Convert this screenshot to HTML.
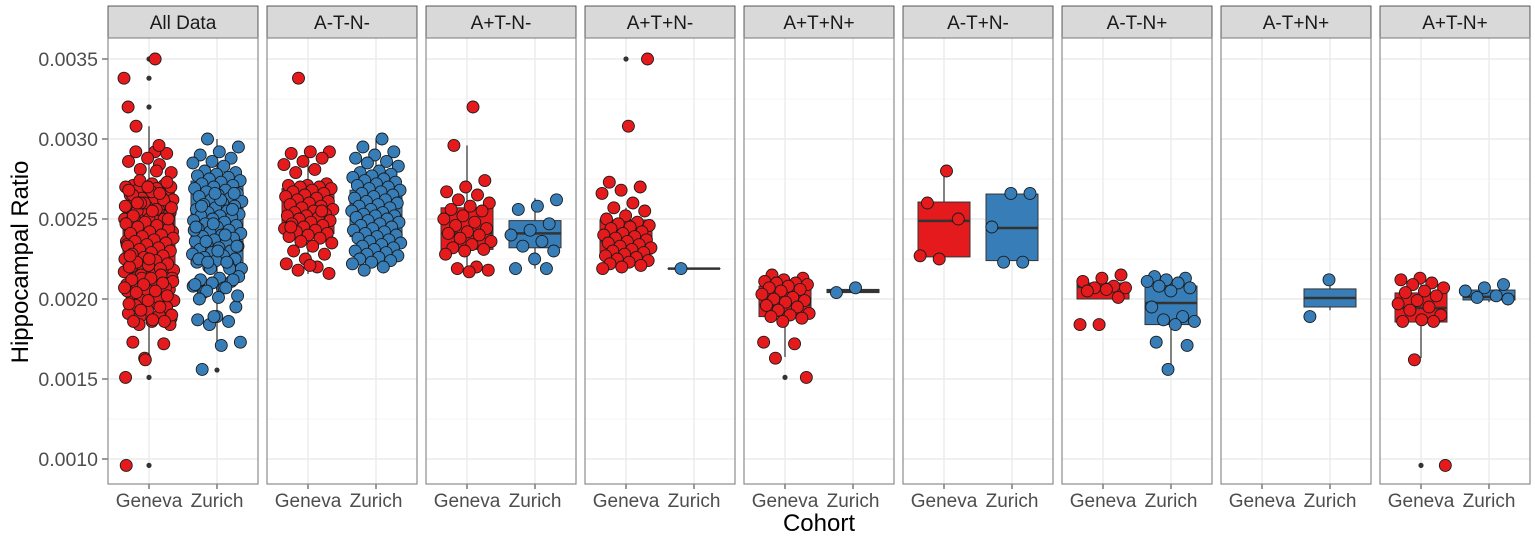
<!DOCTYPE html>
<html><head><meta charset="utf-8"><style>
html,body{margin:0;padding:0;background:#fff;}
svg{display:block;font-family:"Liberation Sans",sans-serif;}
</style></head><body>
<svg id="chart" width="1535" height="542" viewBox="0 0 1535 542"></svg>
<script>
const panels = ["All Data","A-T-N-","A+T-N-","A+T+N-","A+T+N+","A-T+N-","A-T-N+","A-T+N+","A+T-N+"];
const cohorts = ["Geneva","Zurich"];
const yTicks = [1.0,1.5,2.0,2.5,3.0,3.5];
const yTickLabels = ["0.0010","0.0015","0.0020","0.0025","0.0030","0.0035"];
// values x 1e-3 (hippocampal ratio * 1000)
const genevaPts = [
 null,
 [3.38,2.92,2.92,2.91,2.88,2.86,2.84,2.81,2.79,2.72,2.71,2.71,2.70,2.70,2.69,2.68,2.67,2.66,2.65,2.64,2.63,2.62,2.61,2.60,2.59,2.58,2.57,2.56,2.55,2.54,2.53,2.52,2.52,2.51,2.50,2.49,2.48,2.47,2.46,2.45,2.44,2.43,2.42,2.41,2.40,2.39,2.38,2.36,2.35,2.33,2.30,2.28,2.25,2.22,2.20,2.18,2.16,2.21,2.45,2.55],
 [3.20,2.96,2.74,2.70,2.67,2.65,2.62,2.60,2.58,2.56,2.55,2.52,2.50,2.48,2.46,2.44,2.42,2.41,2.40,2.38,2.36,2.34,2.32,2.31,2.30,2.28,2.20,2.19,2.18,2.17],
 [3.50,3.08,2.73,2.70,2.68,2.66,2.60,2.57,2.55,2.52,2.50,2.48,2.47,2.46,2.45,2.44,2.42,2.41,2.40,2.39,2.38,2.37,2.36,2.35,2.34,2.33,2.32,2.31,2.30,2.29,2.28,2.27,2.26,2.25,2.24,2.23,2.22,2.21,2.20,2.19],
 [2.15,2.13,2.12,2.11,2.10,2.10,2.09,2.08,2.07,2.06,2.05,2.03,2.01,2.00,1.99,1.98,1.96,1.95,1.93,1.91,1.90,1.89,1.88,1.86,1.73,1.72,1.63,1.51],
 [2.80,2.60,2.50,2.25,2.27],
 [2.15,2.13,2.11,2.08,2.07,2.07,2.06,2.05,2.01,1.84,1.84],
 [],
 [2.13,2.12,2.10,2.09,2.07,2.05,2.04,2.02,1.99,1.97,1.95,1.93,1.90,1.87,1.86,1.86,1.62,0.96]
];
const zurichPts = [
 null,
 [3.00,2.95,2.92,2.90,2.88,2.86,2.85,2.83,2.80,2.79,2.78,2.77,2.76,2.75,2.74,2.73,2.72,2.71,2.70,2.69,2.68,2.67,2.66,2.65,2.64,2.63,2.62,2.61,2.60,2.59,2.58,2.57,2.56,2.55,2.54,2.53,2.52,2.52,2.51,2.50,2.49,2.48,2.47,2.46,2.45,2.44,2.43,2.42,2.41,2.40,2.39,2.38,2.37,2.36,2.35,2.34,2.33,2.32,2.31,2.30,2.29,2.28,2.27,2.26,2.25,2.24,2.23,2.22,2.20,2.18],
 [2.62,2.58,2.56,2.47,2.43,2.40,2.36,2.33,2.30,2.25,2.19,2.19],
 [2.19],
 [2.07,2.04],
 [2.66,2.66,2.45,2.23,2.23],
 [2.14,2.13,2.12,2.11,2.10,2.08,2.07,2.05,1.95,1.89,1.87,1.86,1.84,1.73,1.71,1.56],
 [2.12,1.89],
 [2.09,2.07,2.05,2.02,2.01,2.00]
];
// box stats: [whiskerLo, q1, median, q3, whiskerHi]
const genevaBox = [[1.62,2.15,2.32,2.544,3.08],[2.156,2.41,2.519,2.69,2.88],[2.17,2.31,2.41,2.57,2.96],[2.20,2.28,2.36,2.494,2.57],[1.638,1.89,1.963,2.08,2.15],[2.26,2.263,2.488,2.606,2.80],[2.0,2.0,2.075,2.10,2.144],null,[1.631,1.856,1.944,2.038,2.13]];
const zurichBox = [[1.72,2.22,2.43,2.737,3.00],[2.22,2.39,2.52,2.68,3.00],[2.19,2.32,2.41,2.49,2.63],[2.19,2.19,2.19,2.19,2.19],[2.035,2.04,2.05,2.06,2.06],[2.24,2.24,2.444,2.656,2.656],[1.556,1.84,1.975,2.081,2.14],[1.93,1.95,2.006,2.063,2.12],[1.98,1.994,2.013,2.056,2.08]];
const genevaOutliers = [[3.50,3.38,3.20,1.51,0.96],[],[],[3.50],[1.51],[],[],[],[0.96]];
const zurichOutliers = [[1.556],[],[],[],[],[],[],[],[]];

const svg = document.getElementById('chart');
const NS = 'http://www.w3.org/2000/svg';
function mk(tag, attrs, parent){const e=document.createElementNS(NS,tag);for(const k in attrs)e.setAttribute(k,attrs[k]);(parent||svg).appendChild(e);return e;}
const PX0=108, PW=150, PSTEP=159, PTOP=38, PBOT=484;
function yScale(v){return 59+(3.5-v)*160;}
function xScale(p,c){return PX0+p*PSTEP+(c===0?41:109);}
genevaPts[0]=[].concat(...genevaPts.slice(1));
zurichPts[0]=[].concat(...zurichPts.slice(1));

const yt=mk('text',{x:0,y:0,transform:'translate(28,262) rotate(-90)','text-anchor':'middle','font-size':'24',fill:'#000'});


yt.textContent='Hippocampal Ratio';
yTicks.forEach((t,i)=>{
  const tl=mk('text',{x:98,y:yScale(t)+7,'text-anchor':'end','font-size':'19.5',fill:'#4d4d4d'});
  
  
  tl.textContent=yTickLabels[i];
  const tk=mk('line',{x1:102,x2:108,y1:yScale(t),y2:yScale(t),stroke:'#333','stroke-width':1});
  
  
});
const xt=mk('text',{x:819,y:531,'text-anchor':'middle','font-size':'24',fill:'#000'});


xt.textContent='Cohort';

function frac(i,s){return ((i*0.618034+s*0.31)%1)-0.5;}
panels.forEach((name,p)=>{
  const x0=PX0+p*PSTEP;
  const g=mk('g',{});
  
  
  const st=mk('rect',{x:x0,y:6,width:PW,height:PTOP-6,fill:'#d9d9d9',stroke:'#333','stroke-width':0.8},g);
  
  
  const stt=mk('text',{x:x0+PW/2,y:29,'text-anchor':'middle','font-size':'19',fill:'#1a1a1a'},g);
  
  
  stt.textContent=name;
  for(let v=1.0;v<=3.6;v+=0.25){
    const major=Math.abs((v*2)-Math.round(v*2))<1e-6;
    const gy=yScale(v); if(gy<PTOP||gy>PBOT) continue;
    const gl=mk('line',{x1:x0,x2:x0+PW,y1:gy,y2:gy,stroke:major?'#ebebeb':'#f3f3f3','stroke-width':major?1.4:0.8},g);
    
    
  }
  [0,1].forEach(c=>{
    const gl=mk('line',{x1:xScale(p,c),x2:xScale(p,c),y1:PTOP,y2:PBOT,stroke:'#ebebeb','stroke-width':1.4},g);
    
    
  });
  const boxes=[genevaBox[p],zurichBox[p]], pts=[genevaPts[p],zurichPts[p]], outs=[genevaOutliers[p],zurichOutliers[p]];
  const fills=['#e41a1c','#377eb8'];
  [0,1].forEach(c=>{
    const cx=xScale(p,c), b=boxes[c];
    if(b){
      const w=mk('line',{x1:cx,x2:cx,y1:yScale(b[0]),y2:yScale(b[4]),stroke:'#333','stroke-width':1.2},g);
      
      
      const r=mk('rect',{x:cx-26,y:yScale(b[3]),width:52,height:Math.max(yScale(b[1])-yScale(b[3]),0.1),fill:fills[c],stroke:'#333','stroke-width':1},g);
      
      
      const m=mk('line',{x1:cx-26,x2:cx+26,y1:yScale(b[2]),y2:yScale(b[2]),stroke:'#333','stroke-width':2.5},g);
      
      
    }
    outs[c].forEach(v=>{
      const o=mk('circle',{cx:cx,cy:yScale(v),r:2.6,fill:'#333'},g);
      
      
    });
    pts[c].forEach((v,i)=>{
      const pt=mk('circle',{cx:cx+frac(i,c+p)*50,cy:yScale(v),r:6,fill:fills[c],stroke:'#1a1a1a','stroke-width':0.9},g);
      
      
    });
    const xl=mk('text',{x:cx,y:507,'text-anchor':'middle','font-size':'19',fill:'#4d4d4d'},g);
    
    
    xl.textContent=cohorts[c];
    const xk=mk('line',{x1:cx,x2:cx,y1:PBOT,y2:PBOT+5,stroke:'#333','stroke-width':1},g);
    
    
  });
  const bd=mk('rect',{x:x0,y:PTOP,width:PW,height:PBOT-PTOP,fill:'none',stroke:'#8c8c8c','stroke-width':1.2},g);
  
  
});
</script>
</body></html>
